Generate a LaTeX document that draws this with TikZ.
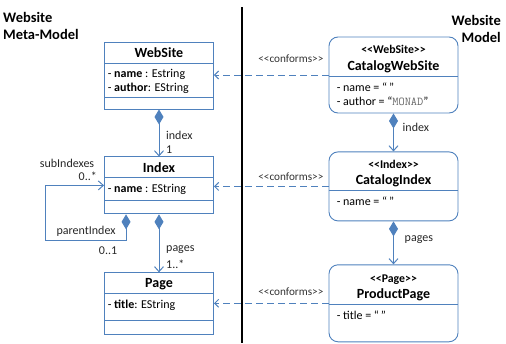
\documentclass[tikz,border=0pt]{standalone}
\usepackage{fontspec}
\setmainfont{Carlito}
\usetikzlibrary{positioning, arrows.meta, calc}

\definecolor{umlblue}{RGB}{79,129,189}
\newcommand{\stereo}[1]{{<}{<}#1{>}{>}}

\begin{document}
\begin{tikzpicture}[
  x=1pt, y=1pt,
  font=\fontsize{12}{14}\selectfont,
  cls/.style={draw=umlblue, line width=0.9pt, minimum width=109pt,
              inner sep=0pt},
  obj/.style={cls, rounded corners=9pt, minimum width=129pt},
  divider/.style={umlblue, line width=0.8pt},
  clsname/.style={font=\fontsize{14}{16}\selectfont\bfseries, inner sep=0pt},
  stname/.style={font=\fontsize{11.8}{13}\selectfont\bfseries, inner sep=0pt},
  attr/.style={font=\fontsize{12}{14}\selectfont, align=left, inner sep=0pt},
  role/.style={font=\fontsize{12}{14}\selectfont, text=black!85, inner sep=0pt},
  hdr/.style={font=\fontsize{14.5}{17}\selectfont\bfseries, inner sep=0pt},
  comp/.style={umlblue, line width=1pt,
               {Diamond[length=15pt, width=9pt]}-{Straight Barb[length=5pt, width=9pt]}},
  conf/.style={umlblue, line width=1pt, dash pattern=on 7pt off 4pt,
               -{Straight Barb[length=4pt, width=8pt]}},
  conflbl/.style={font=\fontsize{11.2}{13}\selectfont, text=black!80, inner sep=0pt},
]
\useasboundingbox (0,0) rectangle (506,-343);

% ------------------- headers and separator -------------------
\node[hdr, align=left, anchor=north west] (mmhdr) at (3,-12) {Website\\Meta-Model};
\node[hdr, align=right, anchor=north east] (mhdr) at (501,-15) {Website\\Model};
\draw[line width=1.2pt] (242,-7) -- (242,-343);

% ------------------- META-MODEL (left half) -------------------
\node[cls, minimum height=67pt] (ws) at (159,-75.5) {};
\node[cls, minimum height=57pt, below=47pt of ws] (idx) {};
\node[cls, minimum height=62pt, below=58pt of idx] (pg) {};

% WebSite
\node[clsname] (wsname) at ($(ws.north)+(0,-11)$) {WebSite};
\draw[divider] ([yshift=-22pt]ws.north west) -- ([yshift=-22pt]ws.north east);
\node[attr, anchor=west] (wsattr) at ($(ws.north west)+(3.5,-40)$)
  {- \textbf{name} : Estring\\- \textbf{author}: EString};
\draw[divider] ([yshift=12pt]ws.south west) -- ([yshift=12pt]ws.south east);

% Index
\node[clsname] (idxname) at ($(idx.north)+(0,-11)$) {Index};
\draw[divider] ([yshift=-21pt]idx.north west) -- ([yshift=-21pt]idx.north east);
\node[attr, anchor=west] (idxattr) at ($(idx.north west)+(3.5,-33)$)
  {- \textbf{name} : EString};
\draw[divider] ([yshift=14pt]idx.south west) -- ([yshift=14pt]idx.south east);

% Page
\node[clsname] (pgname) at ($(pg.north)+(0,-12)$) {Page};
\draw[divider] ([yshift=-21pt]pg.north west) -- ([yshift=-21pt]pg.north east);
\node[attr, anchor=west] (pgattr) at ($(pg.north west)+(3.5,-33)$)
  {- \textbf{title}: EString};
\draw[divider] ([yshift=15pt]pg.south west) -- ([yshift=15pt]pg.south east);

% compositions
\draw[comp] (ws.south) -- (idx.north);
\node[role, anchor=west] (wsidx) at ($(idx.north)+(7,21)$) {index};
\node[role, anchor=west] (wsidxm) at ($(idx.north)+(7,7)$) {1};

\draw[comp] (idx.south) -- (pg.north);
\node[role, anchor=west] (idxpg) at ($(pg.north)+(7,23)$) {pages};
\node[role, anchor=west] (idxpgm) at ($(pg.north)+(7,8)$) {1..*};

% self loop: parentIndex / subIndexes
\coordinate (loopc) at ($(idx.south west)+(-59,-26)$);
\draw[comp] ($(idx.south west)+(22,0)$) |- (loopc) |- (idx.west);
\node[role] (subidx) at ($(idx.west)+(-37,22.5)$) {subIndexes};
\node[role, anchor=east] (subidxm) at ($(idx.west)+(-7,9.5)$) {0..*};
\node[role] (paridx) at ($(idx.south west)+(-18,-17)$) {parentIndex};
\node[role] (paridxm) at ($(idx.south west)+(4,-36)$) {0..1};

% ------------------- MODEL (right half) -------------------
\node[obj, minimum height=76pt] (cws) at (393.5,-75) {};
\node[obj, minimum height=69pt, below=38pt of cws] (cidx) {};
\node[obj, minimum height=77pt, below=43pt of cidx] (ppg) {};

% CatalogWebSite
\node[stname] (cwsst) at ($(cws.north)+(0,-13)$) {\stereo{WebSite}};
\node[clsname] (cwsname) at ($(cws.north)+(0,-30)$) {CatalogWebSite};
\draw[divider] ([yshift=-40pt]cws.north west) -- ([yshift=-40pt]cws.north east);
\node[attr, anchor=west] (cwsattr) at ($(cws.north west)+(8,-58)$)
  {- name = “\,”\\- author = “{\ttfamily\color{black!60}MONAD}”};

% CatalogIndex
\node[stname] (cidxst) at ($(cidx.north)+(0,-13)$) {\stereo{Index}};
\node[clsname] (cidxname) at ($(cidx.north)+(0,-29)$) {CatalogIndex};
\draw[divider] ([yshift=-39pt]cidx.north west) -- ([yshift=-39pt]cidx.north east);
\node[attr, anchor=west] (cidxattr) at ($(cidx.north west)+(8,-50)$) {- name = “\,”};

% ProductPage
\node[stname] (ppgst) at ($(ppg.north)+(0,-15)$) {\stereo{Page}};
\node[clsname] (ppgname) at ($(ppg.north)+(0,-30)$) {ProductPage};
\draw[divider] ([yshift=-40pt]ppg.north west) -- ([yshift=-40pt]ppg.north east);
\node[attr, anchor=west] (ppgattr) at ($(ppg.north west)+(8,-51)$) {- title = “\,”};

% compositions
\draw[comp] (cws.south) -- (cidx.north);
\node[role, anchor=west] (cwsidx) at ($(cws.south)+(9,-14)$) {index};
\draw[comp] (cidx.south) -- (ppg.north);
\node[role, anchor=west] (cidxpg) at ($(cidx.south)+(11,-18)$) {pages};

% ------------------- conforms links -------------------
\draw[conf] (cws.west) -- (cws.west -| ws.east);
\node[conflbl, anchor=east] (conf1) at ($(cws.west)+(-5,16)$) {\stereo{conforms}};
\draw[conf] (cidx.west) -- (cidx.west -| idx.east);
\node[conflbl, anchor=east] (conf2) at ($(cidx.west)+(-5,10)$) {\stereo{conforms}};
\draw[conf] (ppg.west) -- (ppg.west -| pg.east);
\node[conflbl, anchor=east] (conf3) at ($(ppg.west)+(-5,12)$) {\stereo{conforms}};

\end{tikzpicture}
\end{document}
